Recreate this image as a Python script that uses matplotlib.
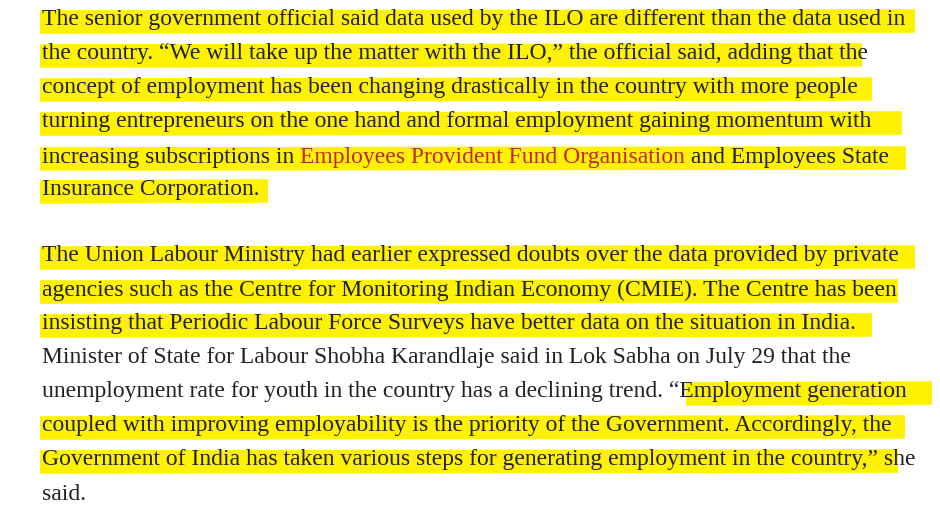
import matplotlib
matplotlib.use("Agg")
import matplotlib.pyplot as plt

# Each line: list of (text, color) segments
lines = [
    [("The senior government official said data used by the ILO are different than the data used in", "#222222")],
    [("the country. \u201cWe will take up the matter with the ILO,\u201d the official said, adding that the", "#222222")],
    [("concept of employment has been changing drastically in the country with more people", "#222222")],
    [("turning entrepreneurs on the one hand and formal employment gaining momentum with", "#222222")],
    [("increasing subscriptions in ", "#222222"), ("Employees Provident Fund Organisation", "#c0272d"), (" and Employees State", "#222222")],
    [("Insurance Corporation.", "#222222")],
    [("The Union Labour Ministry had earlier expressed doubts over the data provided by private", "#222222")],
    [("agencies such as the Centre for Monitoring Indian Economy (CMIE). The Centre has been", "#222222")],
    [("insisting that Periodic Labour Force Surveys have better data on the situation in India.", "#222222")],
    [("Minister of State for Labour Shobha Karandlaje said in Lok Sabha on July 29 that the", "#222222")],
    [("unemployment rate for youth in the country has a declining trend. \u201cEmployment generation", "#222222")],
    [("coupled with improving employability is the priority of the Government. Accordingly, the", "#222222")],
    [("Government of India has taken various steps for generating employment in the country,\u201d she", "#222222")],
    [("said.", "#222222")],
]
line_y = [20, 54, 88, 122, 157, 190, 256, 290, 324, 358, 392, 426, 460, 494]
# highlight spans (x start, x end) per line, None = no highlight
highlights = [(40, 915), (40, 862), (40, 872), (40, 902), (40, 906), (40, 268),
              (40, 915), (40, 898), (40, 872), None, (686, 932), (40, 905), (40, 898), None]

fig = plt.figure(figsize=(9.4, 5.11), dpi=100)
ax = fig.add_axes([0, 0, 1, 1])
ax.set_xlim(0, 940)
ax.set_ylim(511, 0)
ax.axis("off")

for y, h in zip(line_y, highlights):
    if h:
        ax.plot([h[0], h[1]], [y + 2, y + 1], color="#fff200", lw=17, solid_capstyle="butt", zorder=1)

fam = ["Liberation Serif", "DejaVu Serif"]
fig.canvas.draw()
r = fig.canvas.get_renderer()
t = ax.text(0, 0, lines[0][0][0], fontsize=15, family=fam)
w = t.get_window_extent(r).width
t.remove()
fs = 15 * 871 / w

for segs, y in zip(lines, line_y):
    x = 42
    for txt, col in segs:
        tt = ax.text(x, y, txt, fontsize=fs, family=fam, color=col, va="center", ha="left", zorder=2)
        x += tt.get_window_extent(r).width
fig.savefig("out.png", dpi=100, facecolor="white")
